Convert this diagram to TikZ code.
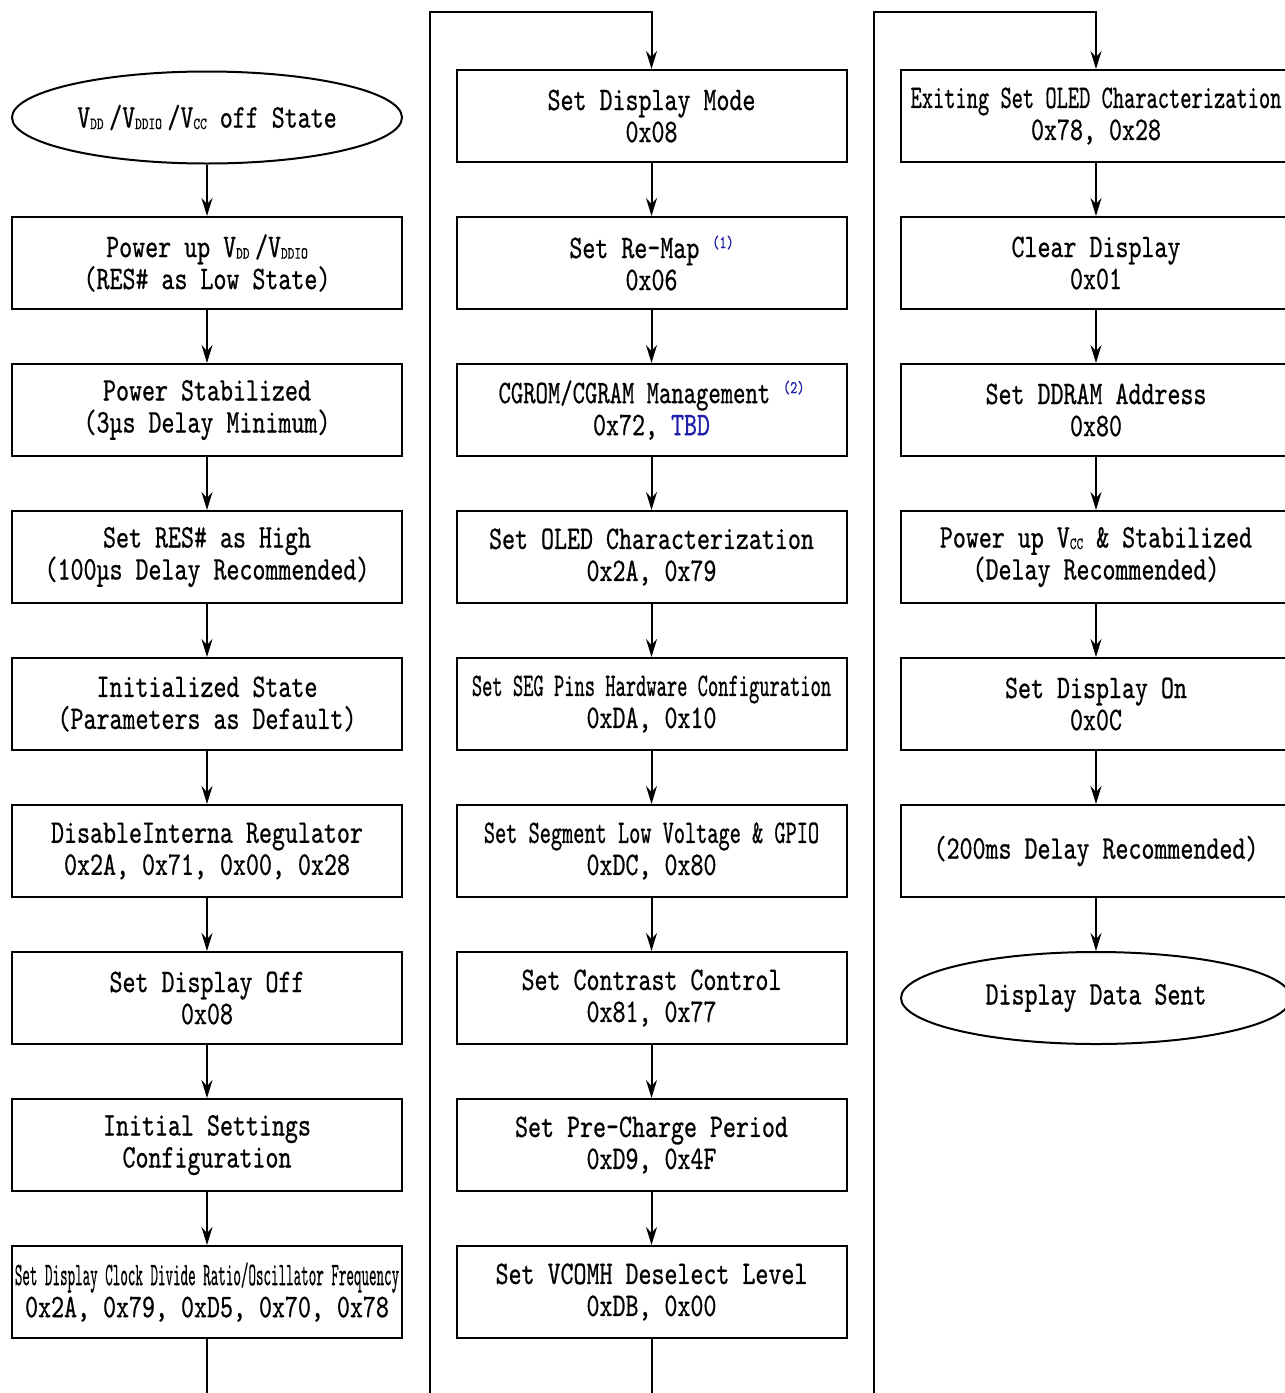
\documentclass[tikz,border=0pt]{standalone}
\usepackage{fontspec}
\usepackage{graphicx}
\newfontfamily\flowfont{lmmono10-regular}[Extension=.otf,FakeStretch=0.75,FakeBold=0.6]
\usetikzlibrary{arrows.meta,shapes.geometric}
\definecolor{noteblue}{RGB}{30,30,170}
\newcommand{\lsub}[1]{\raisebox{-1.5pt}{\fontsize{17}{17}\selectfont #1}}
\newcommand{\nsup}[1]{\raisebox{10pt}{\fontsize{18}{18}\selectfont\textcolor{noteblue}{#1}}}
\begin{document}
\begin{tikzpicture}[x=1pt,y=-1pt,line join=miter,
  box/.style={draw,line width=2pt,minimum width=390pt,minimum height=92pt,inner sep=0pt,align=center,
    font={\flowfont\fontsize{33}{32}\selectfont}},
  oval/.style={box,ellipse},
  flow/.style={line width=2pt,-{Stealth[length=18pt,width=11pt,inset=6pt]}},
  wire/.style={line width=2pt}]
\useasboundingbox (0,0) rectangle (1285,1393);
% column 1
\node[oval] (e0) at (207,117.5) {V\lsub{DD}\,/V\lsub{DDIO}\,/V\lsub{CC} off State};
\node[box] (a1) at (207,263) {Power up V\lsub{DD}\,/V\lsub{DDIO}\\(RES\# as Low State)};
\node[box] (a2) at (207,410) {Power Stabilized\\(3µs Delay Minimum)};
\node[box] (a3) at (207,557) {Set RES\# as High\\(100µs Delay Recommended)};
\node[box] (a4) at (207,704) {Initialized State\\(Parameters as Default)};
\node[box] (a5) at (207,851) {DisableInterna Regulator\\0x2A, 0x71, 0x00, 0x28};
\node[box] (a6) at (207,998) {Set Display Off\\0x08};
\node[box] (a7) at (207,1145) {Initial Settings\\Configuration};
\node[box] (a8) at (207,1292) {\scalebox{0.58}[1]{Set Display Clock Divide Ratio/Oscillator Frequency}\\0x2A, 0x79, 0xD5, 0x70, 0x78};
% column 2
\node[box] (b1) at (651.5,116) {Set Display Mode\\0x08};
\node[box] (b2) at (651.5,263) {Set Re-Map \nsup{(1)}\\0x06};
\node[box] (b3) at (651.5,410) {\scalebox{0.95}[1]{CGROM/CGRAM Management} \nsup{(2)}\\0x72, \textcolor{noteblue}{TBD}};
\node[box] (b4) at (651.5,557) {Set OLED Characterization\\0x2A, 0x79};
\node[box] (b5) at (651.5,704) {\scalebox{0.79}[1]{Set SEG Pins Hardware Configuration}\\0xDA, 0x10};
\node[box] (b6) at (651.5,851) {\scalebox{0.86}[1]{Set Segment Low Voltage \& GPIO}\\0xDC, 0x80};
\node[box] (b7) at (651.5,998) {Set Contrast Control\\0x81, 0x77};
\node[box] (b8) at (651.5,1145) {Set Pre-Charge Period\\0xD9, 0x4F};
\node[box] (b9) at (651.5,1292) {Set VCOMH Deselect Level\\0xDB, 0x00};
% column 3
\node[box] (c1) at (1096,116) {\scalebox{0.865}[1]{Exiting Set OLED Characterization}\\0x78, 0x28};
\node[box] (c2) at (1096,263) {Clear Display\\0x01};
\node[box] (c3) at (1096,410) {Set DDRAM Address\\0x80};
\node[box] (c4) at (1096,557) {Power up V\lsub{CC} \& Stabilized\\(Delay Recommended)};
\node[box] (c5) at (1096,704) {Set Display On\\0x0C};
\node[box] (c6) at (1096,851) {(200ms Delay Recommended)};
\node[oval] (c7) at (1096,998) {Display Data Sent};
% connectors column 1
\draw[flow] (e0) -- (a1);
\draw[flow] (a1) -- (a2);
\draw[flow] (a2) -- (a3);
\draw[flow] (a3) -- (a4);
\draw[flow] (a4) -- (a5);
\draw[flow] (a5) -- (a6);
\draw[flow] (a6) -- (a7);
\draw[flow] (a7) -- (a8);
\coordinate (a8out) at (207,1400);
\draw[wire] (a8) -- (a8out);
% connectors column 2
\coordinate (b0in) at (430,1400);
\coordinate (b0top) at (430,12);
\coordinate (b0turn) at (651.5,12);
\draw[flow] (b0in) -- (b0top) -- (b0turn) -- (b1);
\draw[flow] (b1) -- (b2);
\draw[flow] (b2) -- (b3);
\draw[flow] (b3) -- (b4);
\draw[flow] (b4) -- (b5);
\draw[flow] (b5) -- (b6);
\draw[flow] (b6) -- (b7);
\draw[flow] (b7) -- (b8);
\draw[flow] (b8) -- (b9);
\coordinate (b9out) at (651.5,1400);
\draw[wire] (b9) -- (b9out);
% connectors column 3
\coordinate (c0in) at (874,1400);
\coordinate (c0top) at (874,12);
\coordinate (c0turn) at (1096,12);
\draw[flow] (c0in) -- (c0top) -- (c0turn) -- (c1);
\draw[flow] (c1) -- (c2);
\draw[flow] (c2) -- (c3);
\draw[flow] (c3) -- (c4);
\draw[flow] (c4) -- (c5);
\draw[flow] (c5) -- (c6);
\draw[flow] (c6) -- (c7);
\end{tikzpicture}
\end{document}
